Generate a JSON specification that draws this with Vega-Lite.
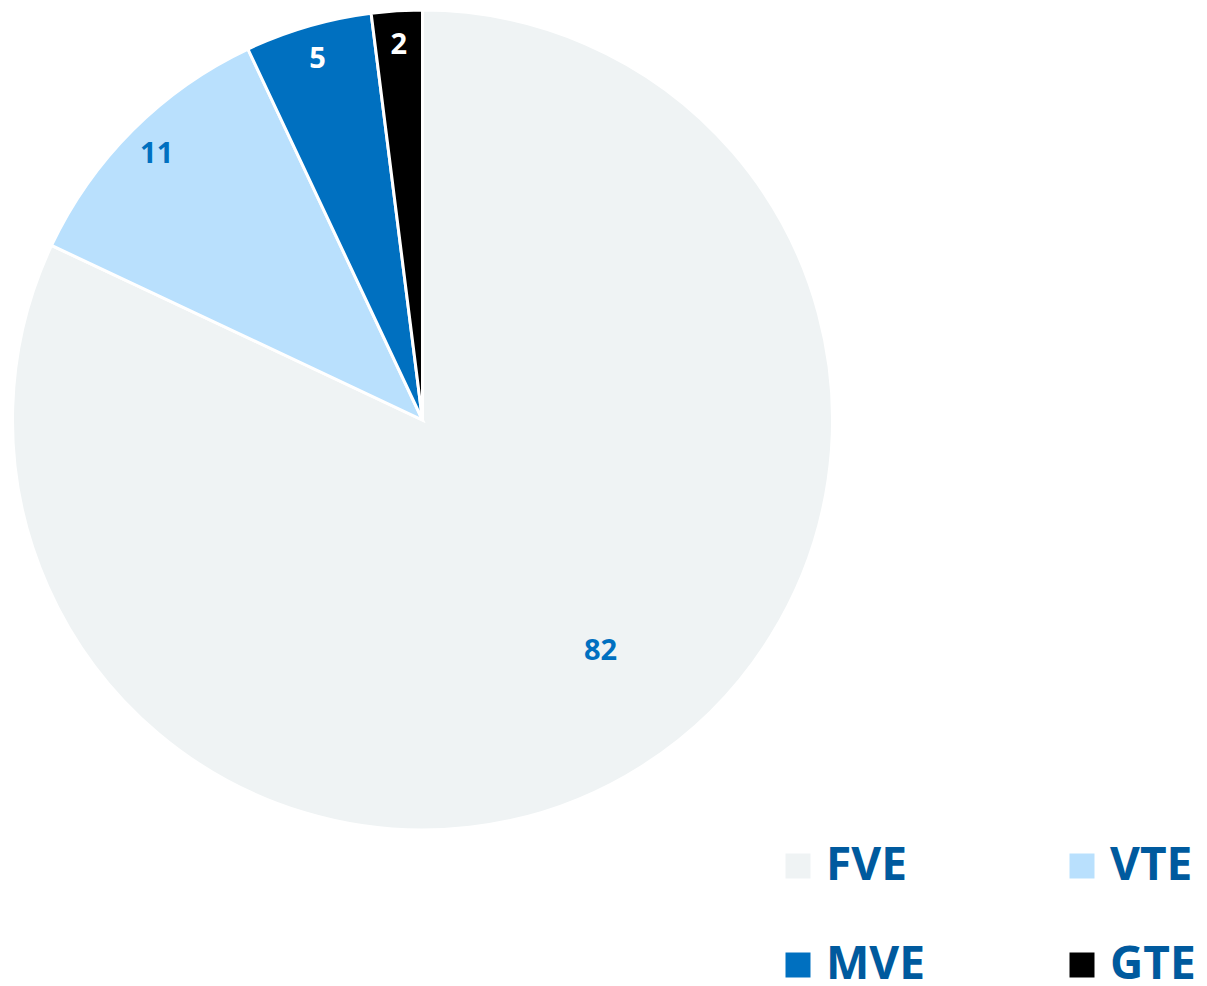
{
  "$schema": "https://vega.github.io/schema/vega-lite/v6.json",
  "width": 845,
  "height": 840,
  "autosize": "none",
  "padding": {"left": 0, "top": 0, "right": 362, "bottom": 146},
  "background": "white",
  "config": {"view": {"stroke": null}},
  "data": {
    "values": [
      {"cat": "FVE", "value": 82},
      {"cat": "VTE", "value": 11},
      {"cat": "MVE", "value": 5},
      {"cat": "GTE", "value": 2}
    ]
  },
  "encoding": {
    "theta": {"field": "value", "type": "quantitative", "stack": true},
    "order": {"field": "value", "type": "quantitative", "sort": "descending"}
  },
  "layer": [
    {
      "mark": {"type": "arc", "outerRadius": 410, "stroke": "white", "strokeWidth": 3},
      "encoding": {
        "color": {
          "field": "cat",
          "type": "nominal",
          "sort": ["FVE", "MVE", "VTE", "GTE"],
          "scale": {"domain": ["FVE", "MVE", "VTE", "GTE"], "range": ["#eff3f4", "#0070c0", "#b9e0fd", "#000000"]},
          "legend": {
            "title": null,
            "orient": "none",
            "legendX": 775,
            "legendY": 843,
            "columns": 2,
            "columnPadding": 133,
            "rowPadding": 53,
            "padding": 0,
            "symbolType": "square",
            "symbolSize": 625,
            "symbolStrokeWidth": 0,
            "symbolOpacity": 1,
            "labelFont": "Open Sans",
            "labelFontWeight": "bold",
            "labelFontSize": 46,
            "labelColor": "#005a9e",
            "labelOffset": 5,
            "labelLimit": 0
          }
        }
      }
    },
    {
      "mark": {"type": "text", "radius": 292, "thetaOffset": -0.09, "font": "Open Sans", "fontWeight": "bold", "fontSize": 29, "fill": "#0070c0"},
      "encoding": {
        "text": {"condition": {"test": "datum.cat != 'FVE'", "value": ""}, "field": "value", "type": "quantitative"}
      }
    },
    {
      "mark": {"type": "text", "radius": 376, "font": "Open Sans", "fontWeight": "bold", "fontSize": 29},
      "encoding": {
        "text": {"condition": {"test": "datum.cat == 'FVE'", "value": ""}, "field": "value", "type": "quantitative"},
        "color": {"condition": {"test": "datum.cat == 'VTE'", "value": "#0070c0"}, "value": "#ffffff"}
      }
    }
  ]
}
